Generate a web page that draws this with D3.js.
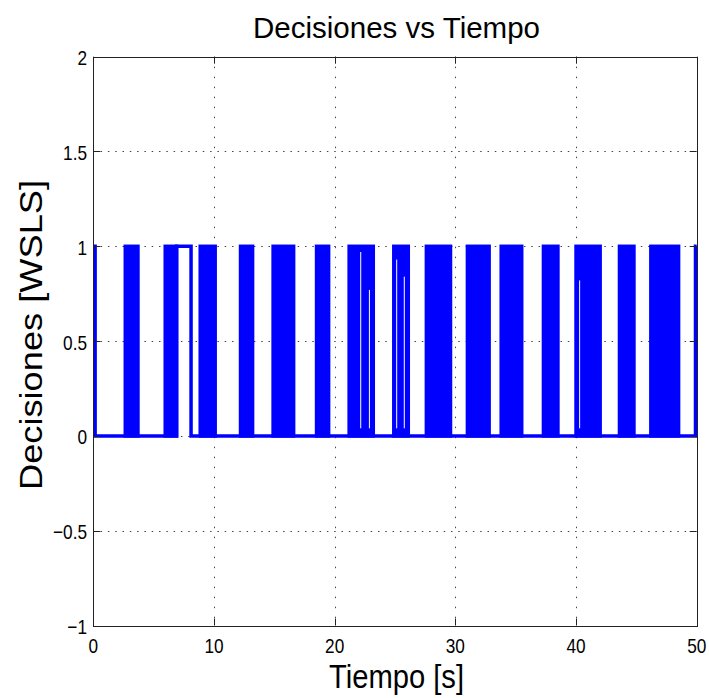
<!DOCTYPE html>
<html>
<head>
<meta charset="utf-8">
<script src="https://cdn.jsdelivr.net/npm/d3@7"></script>
<style>
  body { margin: 0; background: #fff; }
  text { font-family: "Liberation Sans", Arial, sans-serif; fill: #000; }
</style>
</head>
<body>
<div id="chart"></div>
<script>

// tick values
var xTicks = [0, 10, 20, 30, 40, 50];
var yTicks = [-1, -0.5, 0, 0.5, 1, 1.5, 2];

// intervals where the decision flips fast between 0 and 1 (seconds)
var denseStart = [2.65, 5.96, 8.86, 12.2, 14.9, 18.5, 21.2, 24.9, 27.6, 31.0, 33.8, 37.3, 40.0, 43.6, 46.2];
var denseEnd   = [3.7,  6.9, 10.1, 13.2, 16.6, 19.5, 23.2, 26.1, 29.6, 32.8, 35.5, 38.5, 42.0, 44.8, 48.5];

// plain step signal outside the dense parts: [time, value]
var stepPoints = [[0, 1], [0.15, 0], [6.9, 1], [8.1, 0], [49.9, 1], [50, 1]];

// thin holes seen inside some dense blocks: time, top value
var gapTime = [22.16, 22.88, 25.14, 25.77, 40.3];
var gapTop  = [0.97, 0.77, 0.93, 0.84, 0.82];

var width = 709, height = 698;
var pLeft = 93.3, pRight = 696.7, pTop = 56.7, pBottom = 625.5;
var squeeze = 0.82; // the glyphs in the picture are narrow

var svg = d3.select("#chart").append("svg")
    .attr("width", width)
    .attr("height", height);

svg.append("rect").attr("width", width).attr("height", height).attr("fill", "#fff");

var x = d3.scaleLinear().domain([0, 50]).range([pLeft, pRight]);
var y = d3.scaleLinear().domain([-1, 2]).range([pBottom, pTop]);

// dotted grid
svg.append("g").selectAll("line").data(xTicks.slice(1, -1))
    .enter().append("line")
    .attr("x1", d => Math.round(x(d)) + 0.5).attr("x2", d => Math.round(x(d)) + 0.5)
    .attr("y1", pTop).attr("y2", pBottom)
    .attr("stroke", "#444").attr("stroke-width", 1)
    .attr("stroke-dasharray", "1.5,8.5");

svg.append("g").selectAll("line").data(yTicks.slice(1, -1))
    .enter().append("line")
    .attr("x1", pLeft).attr("x2", pRight)
    .attr("y1", d => Math.round(y(d)) + 0.5).attr("y2", d => Math.round(y(d)) + 0.5)
    .attr("stroke", "#444").attr("stroke-width", 1)
    .attr("stroke-dasharray", "1.5,5.8");

// the signal
var blue = "#0000ff";
var plot = svg.append("g");

plot.selectAll("rect.dense").data(denseStart)
    .enter().append("rect")
    .attr("class", "dense")
    .attr("x", (d, i) => x(d))
    .attr("width", (d, i) => x(denseEnd[i]) - x(d))
    .attr("y", y(1))
    .attr("height", y(0) - y(1))
    .attr("fill", blue)
    .attr("stroke", blue)
    .attr("stroke-width", 3.5);

var stepLine = d3.line()
    .x(d => x(d[0]))
    .y(d => y(d[1]))
    .curve(d3.curveStepAfter);

plot.append("path")
    .attr("d", stepLine(stepPoints))
    .attr("fill", "none")
    .attr("stroke", blue)
    .attr("stroke-width", 3.5);

plot.selectAll("line.gap").data(gapTime)
    .enter().append("line")
    .attr("class", "gap")
    .attr("x1", d => x(d)).attr("x2", d => x(d))
    .attr("y1", (d, i) => y(gapTop[i])).attr("y2", y(0.04))
    .attr("stroke", "#fff").attr("stroke-width", 1);

// box and inward ticks
var tickLen = 7;
var axes = svg.append("g").attr("stroke", "#222").attr("stroke-width", 1);

axes.append("rect")
    .attr("x", Math.round(pLeft) + 0.5).attr("y", Math.round(pTop) + 0.5)
    .attr("width", Math.round(pRight) - Math.round(pLeft))
    .attr("height", Math.round(pBottom) - Math.round(pTop))
    .attr("fill", "none");

xTicks.forEach(function (d) {
    var px = Math.round(x(d)) + 0.5;
    axes.append("line").attr("x1", px).attr("x2", px).attr("y1", pBottom).attr("y2", pBottom - tickLen);
    axes.append("line").attr("x1", px).attr("x2", px).attr("y1", pTop).attr("y2", pTop + tickLen);
});
yTicks.forEach(function (d) {
    var py = Math.round(y(d)) + 0.5;
    axes.append("line").attr("x1", pLeft).attr("x2", pLeft + tickLen).attr("y1", py).attr("y2", py);
    axes.append("line").attr("x1", pRight).attr("x2", pRight - tickLen).attr("y1", py).attr("y2", py);
});

function fmt(d) {
    return d < 0 ? "\u2212" + Math.abs(d) : String(d);
}

// tick labels
svg.append("g").selectAll("text").data(xTicks)
    .enter().append("text")
    .attr("transform", d => "translate(" + x(d) + "," + (pBottom + 27.5) + ") scale(" + squeeze + ",1)")
    .attr("text-anchor", "middle")
    .style("font-size", "21px")
    .text(fmt);

svg.append("g").selectAll("text").data(yTicks)
    .enter().append("text")
    .attr("transform", d => "translate(" + (pLeft - 6.3) + "," + (y(d) + 8.5) + ") scale(" + squeeze + ",1)")
    .attr("text-anchor", "end")
    .style("font-size", "21px")
    .text(fmt);

// titles
svg.append("text")
    .attr("x", 253).attr("y", 38)
    .attr("textLength", 287).attr("lengthAdjust", "spacingAndGlyphs")
    .style("font-size", "29px")
    .text("Decisiones vs Tiempo");

svg.append("text")
    .attr("x", 329).attr("y", 688)
    .attr("textLength", 135).attr("lengthAdjust", "spacingAndGlyphs")
    .style("font-size", "34px")
    .text("Tiempo [s]");

svg.append("text")
    .attr("transform", "translate(42,490) rotate(-90)")
    .attr("textLength", 310).attr("lengthAdjust", "spacingAndGlyphs")
    .style("font-size", "32px")
    .text("Decisiones [WSLS]");

</script>
</body>
</html>
